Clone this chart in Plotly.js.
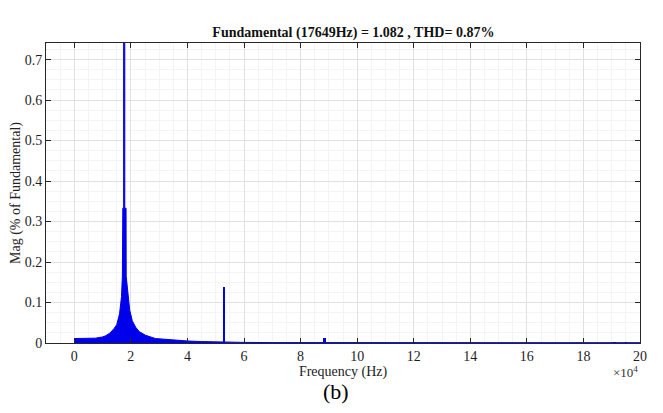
<!DOCTYPE html>
<html>
<head>
<meta charset="utf-8">
<script src="https://cdn.plot.ly/plotly-3.0.1.min.js"></script>
<style>html,body{margin:0;padding:0;background:#fff;}#chart{width:663px;height:413px;}</style>
</head>
<body>
<div id="chart"></div>
<script>
// Spectrum envelope (frequency in units of 10^4 Hz, magnitude in % of fundamental)
var spectrumFreq = [0, 0.5, 0.75, 1.0, 1.11, 1.25, 1.40, 1.50, 1.60, 1.67, 1.70, 1.715, 1.745, 1.75, 1.78, 1.785, 1.83, 1.835, 1.88, 1.91, 1.96, 2.05, 2.17, 2.3, 2.52, 2.87, 3.2, 3.5, 4.0, 4.5, 5.0, 5.5, 6.0, 7.0, 8.0, 10.0, 14.0, 20.0];
var spectrumMag  = [0.011, 0.0115, 0.012, 0.015, 0.018, 0.024, 0.035, 0.045, 0.072, 0.115, 0.165, 0.333, 0.333, 100, 100, 0.333, 0.333, 0.165, 0.135, 0.122, 0.081, 0.055, 0.039, 0.028, 0.019, 0.011, 0.009, 0.007, 0.005, 0.0035, 0.0025, 0.002, 0.0015, 0.001, 0.001, 0.0009, 0.0008, 0.0008];

// Isolated harmonic spikes
var harmonicFreq = [5.2947, 8.85, 12.0, 15.95, 19.09, 19.5];
var harmonicMag  = [0.138, 0.013, 0.002, 0.001, 0.003, 0.0015];
var harmonicWidth = [0.07, 0.1, 0.08, 0.08, 0.1, 0.08];

var xTickVals = [0, 2, 4, 6, 8, 10, 12, 14, 16, 18, 20];
var xTickText = ['0', '2', '4', '6', '8', '10', '12', '14', '16', '18', '20'];
var yTickVals = [0, 0.1, 0.2, 0.3, 0.4, 0.5, 0.6, 0.7];
var yTickText = ['0', '0.1', '0.2', '0.3', '0.4', '0.5', '0.6', '0.7'];

var titleText = '<b>Fundamental (17649Hz) = 1.082 , THD= 0.87%</b>';
var xTitle = 'Frequency (Hz)';
var yTitle = 'Mag (% of Fundamental)';
var blue = 'rgb(0,0,235)';
var serif = 'Liberation Serif, Times New Roman, serif';

var traces = [
  {
    type: 'scatter', mode: 'lines',
    x: spectrumFreq, y: spectrumMag,
    fill: 'tozeroy', fillcolor: blue,
    line: {color: blue, width: 1},
    hoverinfo: 'skip', showlegend: false
  },
  {
    type: 'bar',
    x: harmonicFreq, y: harmonicMag, width: harmonicWidth,
    marker: {color: blue, line: {width: 0}},
    hoverinfo: 'skip', showlegend: false
  }
];

var axisCommon = {
  showline: true, linecolor: 'rgb(38,38,38)', linewidth: 1, mirror: 'ticks',
  ticks: 'inside', ticklen: 5, tickcolor: 'rgb(38,38,38)', tickwidth: 1,
  showgrid: true, gridcolor: 'rgb(225,225,225)', gridwidth: 1,
  zeroline: false,
  tickfont: {family: serif, size: 14, color: 'rgb(30,30,30)'}
};

var layout = {
  width: 663, height: 413,
  margin: {l: 46, r: 23, t: 43, b: 70},
  paper_bgcolor: '#fff', plot_bgcolor: '#fff',
  bargap: 0,
  title: {
    text: titleText,
    font: {family: serif, size: 14, color: '#111'},
    x: 0.5175, xanchor: 'center', xref: 'paper',
    y: 1 - 32/413, yanchor: 'middle', yref: 'container'
  },
  xaxis: Object.assign({}, axisCommon, {
    range: [-1, 20],
    tickmode: 'array', tickvals: xTickVals, ticktext: xTickText,
    minor: {dtick: 0.5, tick0: 0, showgrid: true, gridcolor: 'rgb(244,244,244)', gridwidth: 1, ticks: ''},
    title: {text: xTitle, font: {family: serif, size: 14, color: '#222'}, standoff: 1}
  }),
  yaxis: Object.assign({}, axisCommon, {
    range: [0, 0.741],
    tickmode: 'array', tickvals: yTickVals, ticktext: yTickText,
    minor: {dtick: 0.025, tick0: 0, showgrid: true, gridcolor: 'rgb(244,244,244)', gridwidth: 1, ticks: ''},
    title: {text: yTitle, font: {family: serif, size: 14, color: '#222'}, standoff: 0}
  }),
  annotations: [
    {text: '\u00d710<sup>4</sup>', xref: 'paper', yref: 'paper', x: 1.0, y: -0.095,
     xanchor: 'right', yanchor: 'middle', showarrow: false,
     font: {family: serif, size: 13, color: '#333'}},
    {text: '(b)', xref: 'paper', yref: 'paper', x: 0.4885, y: -0.16,
     xanchor: 'center', yanchor: 'middle', showarrow: false,
     font: {family: serif, size: 22, color: '#000'}}
  ]
};

Plotly.newPlot('chart', traces, layout, {displayModeBar: false, staticPlot: true});
</script>
</body>
</html>
